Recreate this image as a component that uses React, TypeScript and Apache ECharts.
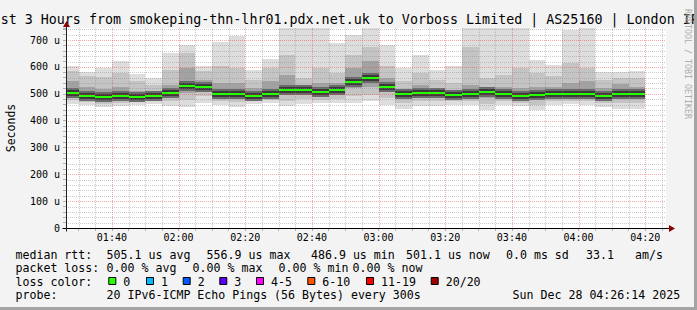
import React, { useEffect, useRef } from 'react';
import * as echarts from 'echarts';

// ---------- data ----------
const rangeStart = '01:26:14';
const rangeEnd = '04:26:14';
const binStarts = [
  '01:25', '01:30', '01:35', '01:40', '01:45', '01:50', '01:55',
  '02:00', '02:05', '02:10', '02:15', '02:20', '02:25', '02:30', '02:35', '02:40', '02:45', '02:50', '02:55',
  '03:00', '03:05', '03:10', '03:15', '03:20', '03:25', '03:30', '03:35', '03:40', '03:45', '03:50', '03:55',
  '04:00', '04:05', '04:10', '04:15',
];
const binMinutes = 5;
// round-trip times in microseconds
const maxRtt = [604, 580, 597, 623, 575, 560, 653, 681, 602, 693, 715, 587, 630, 760, 760, 760, 689, 720, 760, 680, 596, 643, 587, 604, 760, 760, 760, 760, 624, 606, 738, 760, 580, 581, 586];
const p90Rtt = [583, 565, 561, 577, 546, 534, 590, 652, 583, 602, 596, 552, 596, 645, 558, 596, 577, 645, 676, 602, 546, 577, 552, 540, 676, 558, 571, 596, 577, 565, 614, 596, 552, 558, 558];
const p75Rtt = [546, 527, 519, 527, 511, 509, 534, 596, 552, 540, 540, 521, 546, 571, 534, 540, 540, 596, 621, 558, 515, 534, 521, 515, 534, 527, 527, 521, 527, 527, 540, 546, 521, 536, 524];
const medianRtt = [504, 491, 487, 491, 488, 491, 504, 529, 525, 500, 500, 491, 500, 515, 515, 508, 515, 545, 557, 526, 499, 503, 504, 496, 498, 505, 499, 491, 495, 499, 499, 499, 491, 500, 501];
const p25Rtt = [489, 479, 474, 479, 478, 481, 489, 503, 509, 486, 484, 481, 486, 494, 499, 494, 499, 521, 527, 509, 486, 486, 490, 484, 484, 484, 484, 478, 478, 484, 486, 486, 478, 484, 484];
const p10Rtt = [478, 469, 462, 465, 469, 472, 472, 478, 490, 472, 469, 472, 475, 474, 481, 478, 481, 490, 496, 484, 465, 472, 472, 472, 472, 462, 472, 465, 459, 472, 472, 472, 465, 465, 465];
const minRtt = [462, 457, 449, 453, 457, 462, 453, 452, 465, 457, 449, 462, 465, 453, 462, 465, 465, 465, 472, 457, 444, 453, 453, 459, 457, 440, 457, 453, 440, 457, 462, 457, 449, 444, 444];

const xTickLabels = ['01:40', '02:00', '02:20', '02:40', '03:00', '03:20', '03:40', '04:00', '04:20'];
const yMax = 745;
const yMajorStep = 100;
const yMinorStep = 20;

const titleText = 'Last 3 Hours from smokeping-thn-lhr01.pdx.net.uk to Vorboss Limited | AS25160 | London IPv6';
const yAxisName = 'Seconds';
const watermark = 'RRDTOOL / TOBI OETIKER';

const rttRow = ['median rtt:', '505.1 us avg', '556.9 us max', '486.9 us min', '501.1 us now', '0.0 ms sd', '33.1', 'am/s'];
const lossRow = ['packet loss:', '0.00 % avg', '0.00 % max', '0.00 % min', '0.00 % now'];
const lossColorTitle = 'loss color:';
const lossLabels = ['0', '1', '2', '3', '4-5', '6-10', '11-19', '20/20'];
const lossColors = ['#26ff00', '#00b8ff', '#0059ff', '#5e00ff', '#ff00ff', '#ff5500', '#ff0000', '#a10000'];
const probeRow = ['probe:', '20 IPv6-ICMP Echo Pings (56 Bytes) every 300s', 'Sun Dec 28 04:26:14 2025'];

// ---------- helpers ----------
const FONT = "'DejaVu Sans Mono', monospace";
function toMin(s: string): number {
  const p = s.split(':').map(Number);
  return p[0] * 60 + p[1] + (p[2] || 0) / 60;
}
function fmtMin(m: number): string {
  const h = Math.floor(m / 60 + 1e-9);
  const mm = Math.round(m - h * 60);
  return String(h).padStart(2, '0') + ':' + String(mm).padStart(2, '0');
}

export default function App() {
  const ref = useRef<HTMLDivElement>(null);
  useEffect(() => {
    if (!ref.current) return;
    const chart = echarts.init(ref.current, undefined, { renderer: 'svg' });
    const xMin = toMin(rangeStart);
    const xMax = toMin(rangeEnd);

    const smokeData = binStarts.map((s, i) => {
      const t = toMin(s);
      return [t, t + binMinutes, minRtt[i], p10Rtt[i], p25Rtt[i], medianRtt[i], p75Rtt[i], p90Rtt[i], maxRtt[i]];
    });

    // grid line values
    const xMinor: number[] = [];
    for (let t = Math.ceil(xMin / binMinutes) * binMinutes; t < xMax; t += binMinutes) xMinor.push(t);
    const xMajorVals = xTickLabels.map(toMin);
    const gridData: number[][] = [];
    xMinor.forEach((t) => { if (!xMajorVals.includes(t)) gridData.push([t, 0]); });
    xMajorVals.forEach((t) => gridData.push([t, 1]));
    for (let v = yMinorStep; v < yMax; v += yMinorStep) {
      gridData.push([v, v % yMajorStep === 0 ? 3 : 2]);
    }

    const bandColors = ['#dddddd', '#c4c4c4', '#a2a2a2'];

    const gridX = 66, gridY = 28, gridW = 600, gridH = 200;
    const lx = 15.5;
    const rowY = [254.5, 268, 281.5, 295];
    const fsz = 11.6;
    const txt = (x: number, y: number, text: string, extra: any = {}) => ({
      type: 'text', x, y, silent: true,
      style: { text, fontFamily: FONT, fontSize: fsz, fill: '#000', align: 'left', verticalAlign: 'middle', ...extra },
    });
    const rttX = [lx, 106.6, 206.6, 311, 406, 506, 586, 635];
    const lossX = [lx, 106.6, 192.6, 278.6, 352.6];
    const boxX = [108.3, 146, 182.7, 219.3, 256, 307.3, 366, 430.7];
    const probeX = [lx, 106.6, 512.6];

    const graphics: any[] = [];
    graphics.push({
      type: 'text', x: -15.4, y: 19, silent: true,
      style: { text: titleText, fontFamily: FONT, fontSize: 13.33, fill: '#000', align: 'left', verticalAlign: 'middle' },
    });
    graphics.push({
      type: 'text', x: 10.5, y: 128, rotation: Math.PI / 2, silent: true,
      style: { text: yAxisName, fontFamily: FONT, fontSize: 11.5, fill: '#000', align: 'center', verticalAlign: 'middle' },
    });
    graphics.push({
      type: 'text', x: 688, y: 9, rotation: -Math.PI / 2, silent: true,
      style: { text: watermark, fontFamily: FONT, fontSize: 8.3, fill: '#acacac', align: 'left', verticalAlign: 'middle' },
    });
    rttRow.forEach((t, i) => graphics.push(txt(rttX[i], rowY[0], t)));
    lossRow.forEach((t, i) => graphics.push(txt(lossX[i], rowY[1], t)));
    graphics.push(txt(lx, rowY[2], lossColorTitle));
    lossLabels.forEach((t, i) => {
      graphics.push({
        type: 'rect', silent: true,
        shape: { x: boxX[i] + 0.5, y: rowY[2] - 4, width: 7, height: 7 },
        style: { fill: lossColors[i], stroke: '#000', lineWidth: 1 },
      });
      graphics.push(txt(boxX[i] + 15, rowY[2], t));
    });
    probeRow.forEach((t, i) => graphics.push(txt(probeX[i], rowY[3], t)));
    // frame
    graphics.push({ type: 'rect', silent: true, shape: { x: 694, y: 0, width: 3, height: 310 }, style: { fill: '#a4a4a4' } });
    graphics.push({ type: 'rect', silent: true, shape: { x: 0, y: 307, width: 697, height: 3 }, style: { fill: '#a4a4a4' } });

    const option: any = {
      animation: false,
      backgroundColor: '#f3f3f3',
      grid: {
        left: gridX, top: gridY, width: gridW, height: gridH,
        containLabel: false, outerBoundsMode: 'none',
        show: true, backgroundColor: '#ffffff', borderWidth: 0,
      },
      xAxis: {
        type: 'value', min: xMin, max: xMax, z: 5,
        splitLine: { show: false },
        axisLine: { show: false },
        axisTick: { show: true, customValues: xMinor, length: 3, lineStyle: { color: '#b0b0b0' } },
        axisLabel: {
          show: true, customValues: xMajorVals, margin: 4,
          formatter: (v: number) => fmtMin(v),
          fontFamily: FONT, fontSize: 10, color: '#000',
        },
      },
      yAxis: {
        type: 'value', min: 0, max: yMax, interval: yMinorStep, z: 5,
        splitLine: { show: false },
        axisLine: { show: false },
        axisTick: { show: true, length: 3, lineStyle: { color: '#b0b0b0' } },
        axisLabel: {
          show: true, margin: 6,
          formatter: (v: number) => (v % yMajorStep === 0 ? (v === 0 ? '0' : `${v} u`) : ''),
          fontFamily: FONT, fontSize: 10, color: '#000',
        },
      },
      series: [
        {
          type: 'custom', name: 'smoke', z: 2, silent: true,
          data: smokeData,
          encode: { x: [0, 1], y: [2, 3, 4, 5, 6, 7, 8] },
          renderItem: (params: any, api: any) => {
            const cs = params.coordSys;
            const left = cs.x, right = cs.x + cs.width, top = cs.y, bottom = cs.y + cs.height;
            const t0 = api.value(0), t1 = api.value(1);
            const x0 = Math.round(Math.max(left, api.coord([t0, 0])[0]));
            const x1 = Math.round(Math.min(right, api.coord([t1, 0])[0]));
            const yOf = (v: number) => Math.round(Math.max(top, Math.min(bottom, api.coord([t0, v])[1])));
            const band = (lo: number, hi: number, fill: string) => {
              const ya = yOf(hi), yb = yOf(lo);
              return { type: 'rect', shape: { x: x0, y: ya, width: x1 - x0, height: yb - ya }, style: { fill } };
            };
            const md = yOf(api.value(5));
            return {
              type: 'group',
              children: [
                band(api.value(2), api.value(8), bandColors[0]),
                band(api.value(3), api.value(7), bandColors[1]),
                band(api.value(4), api.value(6), bandColors[2]),
                { type: 'rect', shape: { x: x0, y: md - 5, width: x1 - x0, height: 10 }, style: { fill: '#6a6a6a' } },
                { type: 'rect', shape: { x: x0, y: md - 3, width: x1 - x0, height: 6 }, style: { fill: '#3a3a3a' } },
              ],
            };
          },
        },
        {
          type: 'custom', name: 'grid', z: 3, silent: true,
          data: gridData,
          renderItem: (params: any, api: any) => {
            const cs = params.coordSys;
            const v = api.value(0), kind = api.value(1);
            const major = kind === 1 || kind === 3;
            const stroke = major ? 'rgba(240,60,60,0.45)' : 'rgba(140,140,140,0.45)';
            if (kind <= 1) {
              const x = Math.round(api.coord([v, 0])[0]) + 0.5;
              return { type: 'line', shape: { x1: x, y1: cs.y, x2: x, y2: cs.y + cs.height }, style: { stroke, lineWidth: 1, lineDash: [1, 1] } };
            }
            const y = Math.round(api.coord([xMin, v])[1]) + 0.5;
            return { type: 'line', shape: { x1: cs.x, y1: y, x2: cs.x + cs.width, y2: y }, style: { stroke, lineWidth: 1, lineDash: [1, 1] } };
          },
        },
        {
          type: 'custom', name: 'median', z: 4, silent: true,
          data: smokeData,
          encode: { x: [0, 1], y: 5 },
          renderItem: (params: any, api: any) => {
            const cs = params.coordSys;
            const t0 = api.value(0), t1 = api.value(1);
            const x0 = Math.round(Math.max(cs.x, api.coord([t0, 0])[0]));
            const x1 = Math.round(Math.min(cs.x + cs.width, api.coord([t1, 0])[0]));
            const y = Math.round(api.coord([t0, api.value(5)])[1]);
            return { type: 'rect', shape: { x: x0, y: y - 1, width: x1 - x0, height: 2 }, style: { fill: lossColors[0] } };
          },
        },
        {
          // axis lines with rrdtool-style arrow heads, placed from the grid's own bounds
          type: 'custom', name: 'axes', z: 6, silent: true,
          data: [[xMin, 0]],
          renderItem: (params: any, api: any) => {
            const cs = params.coordSys;
            const [ox, oy] = api.coord([xMin, 0]);
            const X = Math.round(ox) + 0.5, Y = Math.round(oy) + 0.5;
            const R = cs.x + cs.width, T = cs.y;
            return {
              type: 'group',
              children: [
                { type: 'line', shape: { x1: X - 4, y1: Y, x2: R + 5, y2: Y }, style: { stroke: '#000', lineWidth: 1 } },
                { type: 'line', shape: { x1: X, y1: Y + 3, x2: X, y2: T - 3 }, style: { stroke: '#202020', lineWidth: 1 } },
                { type: 'polygon', shape: { points: [[R + 3, Y - 3.5], [R + 9, Y], [R + 3, Y + 3.5]] }, style: { fill: '#8b0000' } },
                { type: 'polygon', shape: { points: [[X - 3.5, T - 1], [X, T - 7], [X + 3.5, T - 1]] }, style: { fill: '#8b0000' } },
              ],
            };
          },
        },
      ],
      graphic: graphics,
    };
    chart.setOption(option);
    return () => chart.dispose();
  }, []);
  return <div ref={ref} style={{ position: 'absolute', left: 0, top: 0, width: 697, height: 310 }} />;
}
